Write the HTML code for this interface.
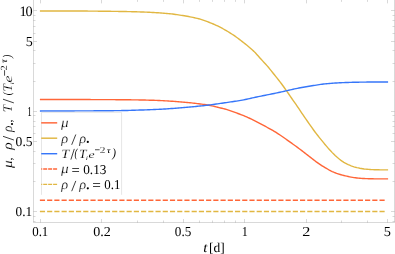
<!DOCTYPE html>
<html><head><meta charset="utf-8"><style>html,body{margin:0;padding:0;background:#fff}svg{display:block;will-change:transform;opacity:0.999}</style></head><body><svg width="395" height="254" viewBox="0 0 395 254">
<rect width="395" height="254" fill="#fff"/>
<g stroke="#000" stroke-opacity="0.17" stroke-width="0.9" fill="none">
<path d="M33.5,0 V222.5 H394.5 V0"/>
<path d="M40.50,222.5 v-3.5 M40.50,0 v3.4"/>
<path d="M101.50,222.5 v-3.5 M101.50,0 v3.4"/>
<path d="M183.50,222.5 v-3.5 M183.50,0 v3.4"/>
<path d="M244.50,222.5 v-3.5 M244.50,0 v3.4"/>
<path d="M306.50,222.5 v-3.5 M306.50,0 v3.4"/>
<path d="M387.50,222.5 v-3.5 M387.50,0 v3.4"/>
<path d="M137.50,222.5 v-2 M137.50,0 v1.9"/>
<path d="M163.50,222.5 v-2 M163.50,0 v1.9"/>
<path d="M199.50,222.5 v-2 M199.50,0 v1.9"/>
<path d="M212.50,222.5 v-2 M212.50,0 v1.9"/>
<path d="M224.50,222.5 v-2 M224.50,0 v1.9"/>
<path d="M235.50,222.5 v-2 M235.50,0 v1.9"/>
<path d="M341.50,222.5 v-2 M341.50,0 v1.9"/>
<path d="M367.50,222.5 v-2 M367.50,0 v1.9"/>
<path d="M33.5,10.5 h3.5 M394.5,10.5 h-3.5"/>
<path d="M33.5,41.5 h3.5 M394.5,41.5 h-3.5"/>
<path d="M33.5,111.5 h3.5 M394.5,111.5 h-3.5"/>
<path d="M33.5,141.5 h3.5 M394.5,141.5 h-3.5"/>
<path d="M33.5,211.5 h3.5 M394.5,211.5 h-3.5"/>
<path d="M33.5,15.5 h2 M394.5,15.5 h-2"/>
<path d="M33.5,20.5 h2 M394.5,20.5 h-2"/>
<path d="M33.5,26.5 h2 M394.5,26.5 h-2"/>
<path d="M33.5,33.5 h2 M394.5,33.5 h-2"/>
<path d="M33.5,50.5 h2 M394.5,50.5 h-2"/>
<path d="M33.5,63.5 h2 M394.5,63.5 h-2"/>
<path d="M33.5,81.5 h2 M394.5,81.5 h-2"/>
<path d="M33.5,115.5 h2 M394.5,115.5 h-2"/>
<path d="M33.5,121.5 h2 M394.5,121.5 h-2"/>
<path d="M33.5,126.5 h2 M394.5,126.5 h-2"/>
<path d="M33.5,133.5 h2 M394.5,133.5 h-2"/>
<path d="M33.5,151.5 h2 M394.5,151.5 h-2"/>
<path d="M33.5,163.5 h2 M394.5,163.5 h-2"/>
<path d="M33.5,181.5 h2 M394.5,181.5 h-2"/>
<path d="M33.5,216.5 h2 M394.5,216.5 h-2"/>
<path d="M33.5,221.5 h2 M394.5,221.5 h-2"/>
</g>
<g fill="none" stroke-width="1.4" stroke-linecap="square" stroke-linejoin="round">
<path d="M40.58,99.50 L42.03,99.50 L43.48,99.50 L44.93,99.50 L46.38,99.50 L47.84,99.50 L49.29,99.50 L50.74,99.50 L52.19,99.51 L53.64,99.51 L55.09,99.51 L56.54,99.51 L57.99,99.51 L59.44,99.51 L60.90,99.52 L62.35,99.52 L63.80,99.52 L65.25,99.52 L66.70,99.53 L68.15,99.53 L69.60,99.53 L71.05,99.53 L72.50,99.54 L73.96,99.54 L75.41,99.54 L76.86,99.54 L78.31,99.55 L79.76,99.55 L81.21,99.55 L82.66,99.56 L84.11,99.56 L85.57,99.56 L87.02,99.57 L88.47,99.57 L89.92,99.57 L91.37,99.58 L92.82,99.58 L94.27,99.59 L95.72,99.59 L97.17,99.59 L98.63,99.60 L100.08,99.60 L101.53,99.61 L102.98,99.62 L104.43,99.62 L105.88,99.63 L107.33,99.63 L108.78,99.64 L110.23,99.65 L111.69,99.65 L113.14,99.66 L114.59,99.67 L116.04,99.68 L117.49,99.69 L118.94,99.69 L120.39,99.70 L121.84,99.71 L123.29,99.73 L124.75,99.74 L126.20,99.75 L127.65,99.77 L129.10,99.79 L130.55,99.81 L132.00,99.83 L133.45,99.85 L134.90,99.87 L136.35,99.89 L137.81,99.91 L139.26,99.94 L140.71,99.97 L142.16,100.00 L143.61,100.03 L145.06,100.07 L146.51,100.10 L147.96,100.14 L149.41,100.18 L150.87,100.23 L152.32,100.27 L153.77,100.32 L155.22,100.37 L156.67,100.42 L158.12,100.48 L159.57,100.54 L161.02,100.60 L162.47,100.67 L163.93,100.75 L165.38,100.83 L166.83,100.91 L168.28,101.00 L169.73,101.09 L171.18,101.19 L172.63,101.30 L174.08,101.41 L175.54,101.53 L176.99,101.65 L178.44,101.77 L179.89,101.89 L181.34,102.01 L182.79,102.13 L184.24,102.25 L185.69,102.37 L187.14,102.49 L188.60,102.63 L190.05,102.77 L191.50,102.92 L192.95,103.08 L194.40,103.25 L195.85,103.42 L197.30,103.60 L198.75,103.79 L200.20,103.98 L201.66,104.17 L203.11,104.36 L204.56,104.56 L206.01,104.78 L207.46,105.00 L208.91,105.25 L210.36,105.52 L211.81,105.82 L213.26,106.15 L214.72,106.50 L216.17,106.87 L217.62,107.24 L219.07,107.60 L220.52,107.95 L221.97,108.30 L223.42,108.65 L224.87,109.03 L226.32,109.44 L227.78,109.89 L229.23,110.36 L230.68,110.86 L232.13,111.37 L233.58,111.89 L235.03,112.41 L236.48,112.94 L237.93,113.48 L239.38,114.02 L240.84,114.57 L242.29,115.13 L243.74,115.71 L245.19,116.32 L246.64,116.94 L248.09,117.59 L249.54,118.26 L250.99,118.95 L252.44,119.65 L253.90,120.37 L255.35,121.09 L256.80,121.82 L258.25,122.57 L259.70,123.32 L261.15,124.09 L262.60,124.86 L264.05,125.65 L265.51,126.44 L266.96,127.25 L268.41,128.05 L269.86,128.86 L271.31,129.66 L272.76,130.47 L274.21,131.31 L275.66,132.19 L277.11,133.10 L278.57,134.05 L280.02,135.03 L281.47,136.02 L282.92,137.02 L284.37,138.03 L285.82,139.04 L287.27,140.07 L288.72,141.10 L290.17,142.13 L291.63,143.16 L293.08,144.20 L294.53,145.25 L295.98,146.30 L297.43,147.36 L298.88,148.44 L300.33,149.53 L301.78,150.63 L303.23,151.73 L304.69,152.85 L306.14,153.96 L307.59,155.07 L309.04,156.20 L310.49,157.35 L311.94,158.51 L313.39,159.66 L314.84,160.79 L316.29,161.88 L317.75,162.91 L319.20,163.91 L320.65,164.87 L322.10,165.80 L323.55,166.70 L325.00,167.57 L326.45,168.42 L327.90,169.25 L329.35,170.05 L330.81,170.81 L332.26,171.52 L333.71,172.18 L335.16,172.78 L336.61,173.32 L338.06,173.82 L339.51,174.29 L340.96,174.72 L342.41,175.12 L343.87,175.50 L345.32,175.85 L346.77,176.19 L348.22,176.52 L349.67,176.82 L351.12,177.10 L352.57,177.35 L354.02,177.58 L355.48,177.77 L356.93,177.95 L358.38,178.10 L359.83,178.23 L361.28,178.35 L362.73,178.45 L364.18,178.54 L365.63,178.61 L367.08,178.67 L368.54,178.71 L369.99,178.75 L371.44,178.79 L372.89,178.81 L374.34,178.84 L375.79,178.85 L377.24,178.86 L378.69,178.87 L380.14,178.88 L381.60,178.89 L383.05,178.89 L384.50,178.89 L385.95,178.90 L387.40,178.90" stroke="#ff6638"/>
<path d="M40.58,10.95 L42.03,10.95 L43.48,10.95 L44.93,10.95 L46.38,10.95 L47.84,10.95 L49.29,10.95 L50.74,10.95 L52.19,10.96 L53.64,10.96 L55.09,10.96 L56.54,10.96 L57.99,10.96 L59.44,10.96 L60.90,10.97 L62.35,10.97 L63.80,10.97 L65.25,10.97 L66.70,10.97 L68.15,10.98 L69.60,10.98 L71.05,10.98 L72.50,10.99 L73.96,10.99 L75.41,11.00 L76.86,11.01 L78.31,11.02 L79.76,11.02 L81.21,11.03 L82.66,11.04 L84.11,11.05 L85.57,11.06 L87.02,11.07 L88.47,11.08 L89.92,11.10 L91.37,11.11 L92.82,11.12 L94.27,11.13 L95.72,11.15 L97.17,11.16 L98.63,11.18 L100.08,11.19 L101.53,11.21 L102.98,11.22 L104.43,11.24 L105.88,11.26 L107.33,11.27 L108.78,11.29 L110.23,11.31 L111.69,11.33 L113.14,11.35 L114.59,11.37 L116.04,11.39 L117.49,11.41 L118.94,11.43 L120.39,11.46 L121.84,11.48 L123.29,11.51 L124.75,11.54 L126.20,11.57 L127.65,11.60 L129.10,11.63 L130.55,11.66 L132.00,11.70 L133.45,11.74 L134.90,11.77 L136.35,11.81 L137.81,11.86 L139.26,11.90 L140.71,11.95 L142.16,11.99 L143.61,12.04 L145.06,12.10 L146.51,12.15 L147.96,12.22 L149.41,12.28 L150.87,12.35 L152.32,12.43 L153.77,12.51 L155.22,12.60 L156.67,12.69 L158.12,12.79 L159.57,12.89 L161.02,13.00 L162.47,13.11 L163.93,13.22 L165.38,13.34 L166.83,13.46 L168.28,13.60 L169.73,13.74 L171.18,13.90 L172.63,14.07 L174.08,14.26 L175.54,14.45 L176.99,14.66 L178.44,14.87 L179.89,15.09 L181.34,15.32 L182.79,15.55 L184.24,15.79 L185.69,16.03 L187.14,16.29 L188.60,16.55 L190.05,16.83 L191.50,17.12 L192.95,17.42 L194.40,17.73 L195.85,18.06 L197.30,18.40 L198.75,18.78 L200.20,19.19 L201.66,19.64 L203.11,20.13 L204.56,20.65 L206.01,21.17 L207.46,21.71 L208.91,22.26 L210.36,22.82 L211.81,23.40 L213.26,24.00 L214.72,24.62 L216.17,25.28 L217.62,25.97 L219.07,26.69 L220.52,27.43 L221.97,28.20 L223.42,28.99 L224.87,29.81 L226.32,30.64 L227.78,31.50 L229.23,32.38 L230.68,33.29 L232.13,34.22 L233.58,35.18 L235.03,36.17 L236.48,37.20 L237.93,38.25 L239.38,39.34 L240.84,40.46 L242.29,41.59 L243.74,42.74 L245.19,43.90 L246.64,45.07 L248.09,46.25 L249.54,47.46 L250.99,48.70 L252.44,50.00 L253.90,51.38 L255.35,52.85 L256.80,54.41 L258.25,56.03 L259.70,57.67 L261.15,59.28 L262.60,60.86 L264.05,62.43 L265.51,64.01 L266.96,65.64 L268.41,67.33 L269.86,69.08 L271.31,70.89 L272.76,72.72 L274.21,74.55 L275.66,76.36 L277.11,78.17 L278.57,79.99 L280.02,81.86 L281.47,83.78 L282.92,85.74 L284.37,87.75 L285.82,89.81 L287.27,91.89 L288.72,94.01 L290.17,96.13 L291.63,98.24 L293.08,100.33 L294.53,102.40 L295.98,104.47 L297.43,106.57 L298.88,108.70 L300.33,110.87 L301.78,113.05 L303.23,115.22 L304.69,117.34 L306.14,119.42 L307.59,121.49 L309.04,123.55 L310.49,125.62 L311.94,127.70 L313.39,129.76 L314.84,131.75 L316.29,133.67 L317.75,135.52 L319.20,137.33 L320.65,139.11 L322.10,140.89 L323.55,142.67 L325.00,144.43 L326.45,146.16 L327.90,147.86 L329.35,149.50 L330.81,151.09 L332.26,152.63 L333.71,154.09 L335.16,155.49 L336.61,156.81 L338.06,158.05 L339.51,159.23 L340.96,160.33 L342.41,161.35 L343.87,162.29 L345.32,163.13 L346.77,163.89 L348.22,164.58 L349.67,165.21 L351.12,165.79 L352.57,166.33 L354.02,166.81 L355.48,167.24 L356.93,167.61 L358.38,167.94 L359.83,168.24 L361.28,168.50 L362.73,168.74 L364.18,168.95 L365.63,169.12 L367.08,169.27 L368.54,169.39 L369.99,169.50 L371.44,169.58 L372.89,169.66 L374.34,169.71 L375.79,169.75 L377.24,169.79 L378.69,169.82 L380.14,169.84 L381.60,169.86 L383.05,169.87 L384.50,169.88 L385.95,169.89 L387.40,169.90" stroke="#e1b742"/>
<path d="M40.58,111.05 L42.03,111.05 L43.48,111.04 L44.93,111.04 L46.38,111.04 L47.84,111.03 L49.29,111.03 L50.74,111.02 L52.19,111.02 L53.64,111.01 L55.09,111.01 L56.54,111.00 L57.99,111.00 L59.44,110.99 L60.90,110.99 L62.35,110.98 L63.80,110.98 L65.25,110.97 L66.70,110.96 L68.15,110.96 L69.60,110.95 L71.05,110.94 L72.50,110.94 L73.96,110.93 L75.41,110.92 L76.86,110.92 L78.31,110.91 L79.76,110.90 L81.21,110.89 L82.66,110.89 L84.11,110.88 L85.57,110.87 L87.02,110.86 L88.47,110.86 L89.92,110.85 L91.37,110.84 L92.82,110.83 L94.27,110.82 L95.72,110.81 L97.17,110.81 L98.63,110.80 L100.08,110.79 L101.53,110.78 L102.98,110.77 L104.43,110.75 L105.88,110.74 L107.33,110.73 L108.78,110.72 L110.23,110.71 L111.69,110.69 L113.14,110.68 L114.59,110.66 L116.04,110.65 L117.49,110.63 L118.94,110.61 L120.39,110.59 L121.84,110.57 L123.29,110.54 L124.75,110.51 L126.20,110.47 L127.65,110.44 L129.10,110.40 L130.55,110.35 L132.00,110.31 L133.45,110.26 L134.90,110.21 L136.35,110.17 L137.81,110.12 L139.26,110.07 L140.71,110.03 L142.16,109.98 L143.61,109.93 L145.06,109.88 L146.51,109.83 L147.96,109.78 L149.41,109.72 L150.87,109.66 L152.32,109.60 L153.77,109.54 L155.22,109.48 L156.67,109.41 L158.12,109.34 L159.57,109.27 L161.02,109.19 L162.47,109.11 L163.93,109.03 L165.38,108.94 L166.83,108.85 L168.28,108.76 L169.73,108.66 L171.18,108.56 L172.63,108.45 L174.08,108.34 L175.54,108.22 L176.99,108.10 L178.44,107.98 L179.89,107.86 L181.34,107.74 L182.79,107.62 L184.24,107.50 L185.69,107.37 L187.14,107.25 L188.60,107.12 L190.05,106.99 L191.50,106.86 L192.95,106.73 L194.40,106.60 L195.85,106.46 L197.30,106.32 L198.75,106.17 L200.20,106.02 L201.66,105.87 L203.11,105.71 L204.56,105.55 L206.01,105.38 L207.46,105.21 L208.91,105.03 L210.36,104.84 L211.81,104.65 L213.26,104.45 L214.72,104.25 L216.17,104.05 L217.62,103.84 L219.07,103.64 L220.52,103.43 L221.97,103.22 L223.42,103.02 L224.87,102.80 L226.32,102.58 L227.78,102.36 L229.23,102.14 L230.68,101.92 L232.13,101.71 L233.58,101.51 L235.03,101.31 L236.48,101.11 L237.93,100.90 L239.38,100.67 L240.84,100.41 L242.29,100.14 L243.74,99.84 L245.19,99.53 L246.64,99.20 L248.09,98.88 L249.54,98.56 L250.99,98.24 L252.44,97.92 L253.90,97.61 L255.35,97.29 L256.80,96.98 L258.25,96.67 L259.70,96.37 L261.15,96.07 L262.60,95.78 L264.05,95.49 L265.51,95.20 L266.96,94.91 L268.41,94.63 L269.86,94.34 L271.31,94.05 L272.76,93.75 L274.21,93.46 L275.66,93.15 L277.11,92.84 L278.57,92.53 L280.02,92.21 L281.47,91.89 L282.92,91.56 L284.37,91.24 L285.82,90.90 L287.27,90.57 L288.72,90.23 L290.17,89.89 L291.63,89.56 L293.08,89.23 L294.53,88.92 L295.98,88.61 L297.43,88.32 L298.88,88.03 L300.33,87.75 L301.78,87.48 L303.23,87.22 L304.69,86.96 L306.14,86.72 L307.59,86.47 L309.04,86.23 L310.49,86.00 L311.94,85.77 L313.39,85.55 L314.84,85.32 L316.29,85.10 L317.75,84.87 L319.20,84.65 L320.65,84.43 L322.10,84.23 L323.55,84.05 L325.00,83.88 L326.45,83.73 L327.90,83.59 L329.35,83.46 L330.81,83.35 L332.26,83.24 L333.71,83.14 L335.16,83.05 L336.61,82.96 L338.06,82.88 L339.51,82.80 L340.96,82.73 L342.41,82.66 L343.87,82.60 L345.32,82.54 L346.77,82.49 L348.22,82.44 L349.67,82.39 L351.12,82.35 L352.57,82.31 L354.02,82.28 L355.48,82.25 L356.93,82.22 L358.38,82.19 L359.83,82.17 L361.28,82.15 L362.73,82.13 L364.18,82.11 L365.63,82.09 L367.08,82.07 L368.54,82.05 L369.99,82.04 L371.44,82.03 L372.89,82.02 L374.34,82.01 L375.79,82.00 L377.24,81.99 L378.69,81.98 L380.14,81.97 L381.60,81.97 L383.05,81.96 L384.50,81.96 L385.95,81.95 L387.40,81.95" stroke="#3676f9"/>
<path d="M40.58,200.3 H387.4" stroke="#ff6638" stroke-dasharray="3.75 3.476"/>
<path d="M40.58,211.55 H387.4" stroke="#e1b742" stroke-dasharray="3.75 3.476"/>
</g>
<rect x="41.5" y="112.3" width="80.1" height="82.5" fill="#fff" stroke="none"/>
<path d="M41.5,194.8 V112.3 H121.6 V194.8" fill="none" stroke="#e6e6e6" stroke-width="1"/>
<g fill="none" stroke-width="1.45">
<path d="M41.2,122.85 H57.2" stroke="#ff6638"/>
<path d="M41.2,138.2 H57.2" stroke="#e1b742"/>
<path d="M41.2,153.7 H57.2" stroke="#3676f9"/>
<path d="M41.2,168.9 H57.2" stroke="#ff6638" stroke-dasharray="4.0 0.95" stroke-dashoffset="2.95"/>
<path d="M41.2,184.35 H57.2" stroke="#e1b742" stroke-dasharray="4.0 0.95" stroke-dashoffset="2.95"/>
</g>
<g font-family="Liberation Serif, serif" font-size="14" fill="#000" text-rendering="geometricPrecision">
<text transform="translate(32.21,236.00) scale(0.12849,0.13700)" font-size="100" font-style="normal">0.1</text>
<text transform="translate(93.16,236.00) scale(0.14091,0.13700)" font-size="100" font-style="normal">0.2</text>
<text transform="translate(174.80,236.00) scale(0.13216,0.13700)" font-size="100" font-style="normal">0.5</text>
<text transform="translate(241.63,236.00) scale(0.12214,0.13700)" font-size="100" font-style="normal">1</text>
<text transform="translate(302.19,236.00) scale(0.16214,0.13700)" font-size="100" font-style="normal">2</text>
<text transform="translate(383.66,236.00) scale(0.14398,0.13700)" font-size="100" font-style="normal">5</text>
<text transform="translate(25.69,46.00) scale(0.14026,0.13700)" font-size="100" font-style="normal">5</text>
<text transform="translate(27.20,116.00) scale(0.09090,0.13700)" font-size="100" font-style="normal">1</text>
<text transform="translate(15.58,146.00) scale(0.13599,0.13700)" font-size="100" font-style="normal">0.5</text>
<text transform="translate(15.59,216.00) scale(0.13283,0.13700)" font-size="100" font-style="normal">0.1</text>
<text x="19.6" y="15.85" font-size="14.3">1</text><text x="25.5" y="15.85" font-size="14.3">0</text>
<text transform="translate(203.24,251.50) scale(0.14966,0.13800)" font-size="100" font-style="italic">t</text>
<text transform="translate(209.00,251.50) scale(0.13463,0.13500)" font-size="100" font-style="normal">[d]</text>
<text transform="translate(60.91,127.40) scale(0.1512,0.1351)" font-size="100" font-style="italic" stroke="#fff" stroke-width="1.40">μ</text>
<text transform="translate(61.36,142.70) scale(0.1431,0.1386)" font-size="100" font-style="italic" stroke="#fff" stroke-width="1.42">ρ</text>
<path d="M71.70,144.80 L75.80,134.50" stroke="#000" stroke-width="0.75" fill="none"/>
<text transform="translate(79.36,142.70) scale(0.1431,0.1386)" font-size="100" font-style="italic" stroke="#fff" stroke-width="1.42">ρ</text>
<circle cx="87.8" cy="141.9" r="1.1"/>
<text transform="translate(61.25,157.90) scale(0.1446,0.1283)" font-size="100" font-style="italic" stroke="#fff" stroke-width="1.10">T</text>
<path d="M70.90,159.60 L74.30,148.90" stroke="#000" stroke-width="0.75" fill="none"/>
<text transform="translate(74.53,157.32) scale(0.0902,0.1213)" font-size="100" font-style="italic">(</text>
<text transform="translate(79.12,157.90) scale(0.1346,0.1283)" font-size="100" font-style="italic" stroke="#fff" stroke-width="1.14">T</text>
<text transform="translate(85.86,159.60) scale(0.0782,0.0529)" font-size="100" font-style="italic">i</text>
<text transform="translate(88.48,157.95) scale(0.1370,0.1029)" font-size="100" font-style="italic" stroke="#fff" stroke-width="0.67">e</text>
<path d="M95.00,149.75 L99.60,149.75" stroke="#000" stroke-width="0.7" fill="none"/>
<text transform="translate(99.80,152.70) scale(0.1147,0.0891)" font-size="100" font-style="normal" stroke="#fff" stroke-width="1.18">2</text>
<text transform="translate(106.76,152.72) scale(0.1092,0.0811)" font-size="100" font-style="italic">τ</text>
<text transform="translate(112.23,157.35) scale(0.1116,0.1246)" font-size="100" font-style="italic">)</text>
<text transform="translate(60.91,173.40) scale(0.1533,0.1351)" font-size="100" font-style="italic" stroke="#fff" stroke-width="1.39">μ</text>
<text transform="translate(71.57,175.05) scale(0.1461,0.1520)" font-size="100" font-style="normal">=</text>
<text transform="translate(83.19,173.60) scale(0.13271,0.13500)" font-size="100" font-style="normal">0.13</text>
<text transform="translate(61.36,189.10) scale(0.1431,0.1386)" font-size="100" font-style="italic" stroke="#fff" stroke-width="1.42">ρ</text>
<path d="M71.70,191.20 L75.80,180.90" stroke="#000" stroke-width="0.75" fill="none"/>
<text transform="translate(79.36,189.10) scale(0.1431,0.1386)" font-size="100" font-style="italic" stroke="#fff" stroke-width="1.42">ρ</text>
<circle cx="87.8" cy="188.3" r="1.1"/>
<text transform="translate(92.14,190.15) scale(0.1526,0.1520)" font-size="100" font-style="normal">=</text>
<text transform="translate(104.31,188.50) scale(0.12936,0.13500)" font-size="100" font-style="normal">0.1</text>
<g transform="rotate(-90)">
<text transform="translate(-168.09,12.04) scale(0.1533,0.1338)" font-size="100" font-style="italic" stroke="#fff" stroke-width="0.84">μ</text>
<text transform="translate(-160.59,11.80) scale(0.1170,0.1168)" font-size="100" font-style="italic">,</text>
<text transform="translate(-149.70,11.67) scale(0.1558,0.1378)" font-size="100" font-style="italic" stroke="#fff" stroke-width="1.36">ρ</text>
<path d="M-140.00,13.85 L-136.30,3.00" stroke="#000" stroke-width="0.75" fill="none"/>
<text transform="translate(-131.96,11.67) scale(0.1347,0.1378)" font-size="100" font-style="italic" stroke="#fff" stroke-width="1.47">ρ</text>
<circle cx="-124" cy="12" r="1.1"/>
<text transform="translate(-122.59,11.80) scale(0.1170,0.1168)" font-size="100" font-style="italic">,</text>
<text transform="translate(-112.17,11.60) scale(0.1328,0.1313)" font-size="100" font-style="italic" stroke="#fff" stroke-width="1.14">T</text>
<path d="M-102.90,13.85 L-99.20,3.00" stroke="#000" stroke-width="0.75" fill="none"/>
<text transform="translate(-95.33,11.30) scale(0.0945,0.1197)" font-size="100" font-style="italic">(</text>
<text transform="translate(-91.57,11.60) scale(0.1328,0.1313)" font-size="100" font-style="italic" stroke="#fff" stroke-width="1.14">T</text>
<text transform="translate(-84.44,13.70) scale(0.0782,0.0514)" font-size="100" font-style="italic">i</text>
<text transform="translate(-82.47,11.78) scale(0.1536,0.1185)" font-size="100" font-style="italic" stroke="#fff" stroke-width="1.10">e</text>
<path d="M-75.70,4.55 L-70.20,4.55" stroke="#000" stroke-width="0.7" fill="none"/>
<text transform="translate(-70.46,6.90) scale(0.1048,0.0936)" font-size="100" font-style="normal" stroke="#fff" stroke-width="1.21">2</text>
<text transform="translate(-63.03,6.61) scale(0.1065,0.0939)" font-size="100" font-style="italic">τ</text>
<text transform="translate(-58.03,11.14) scale(0.1001,0.1202)" font-size="100" font-style="italic">)</text>
</g>
</g>
</svg></body></html>
